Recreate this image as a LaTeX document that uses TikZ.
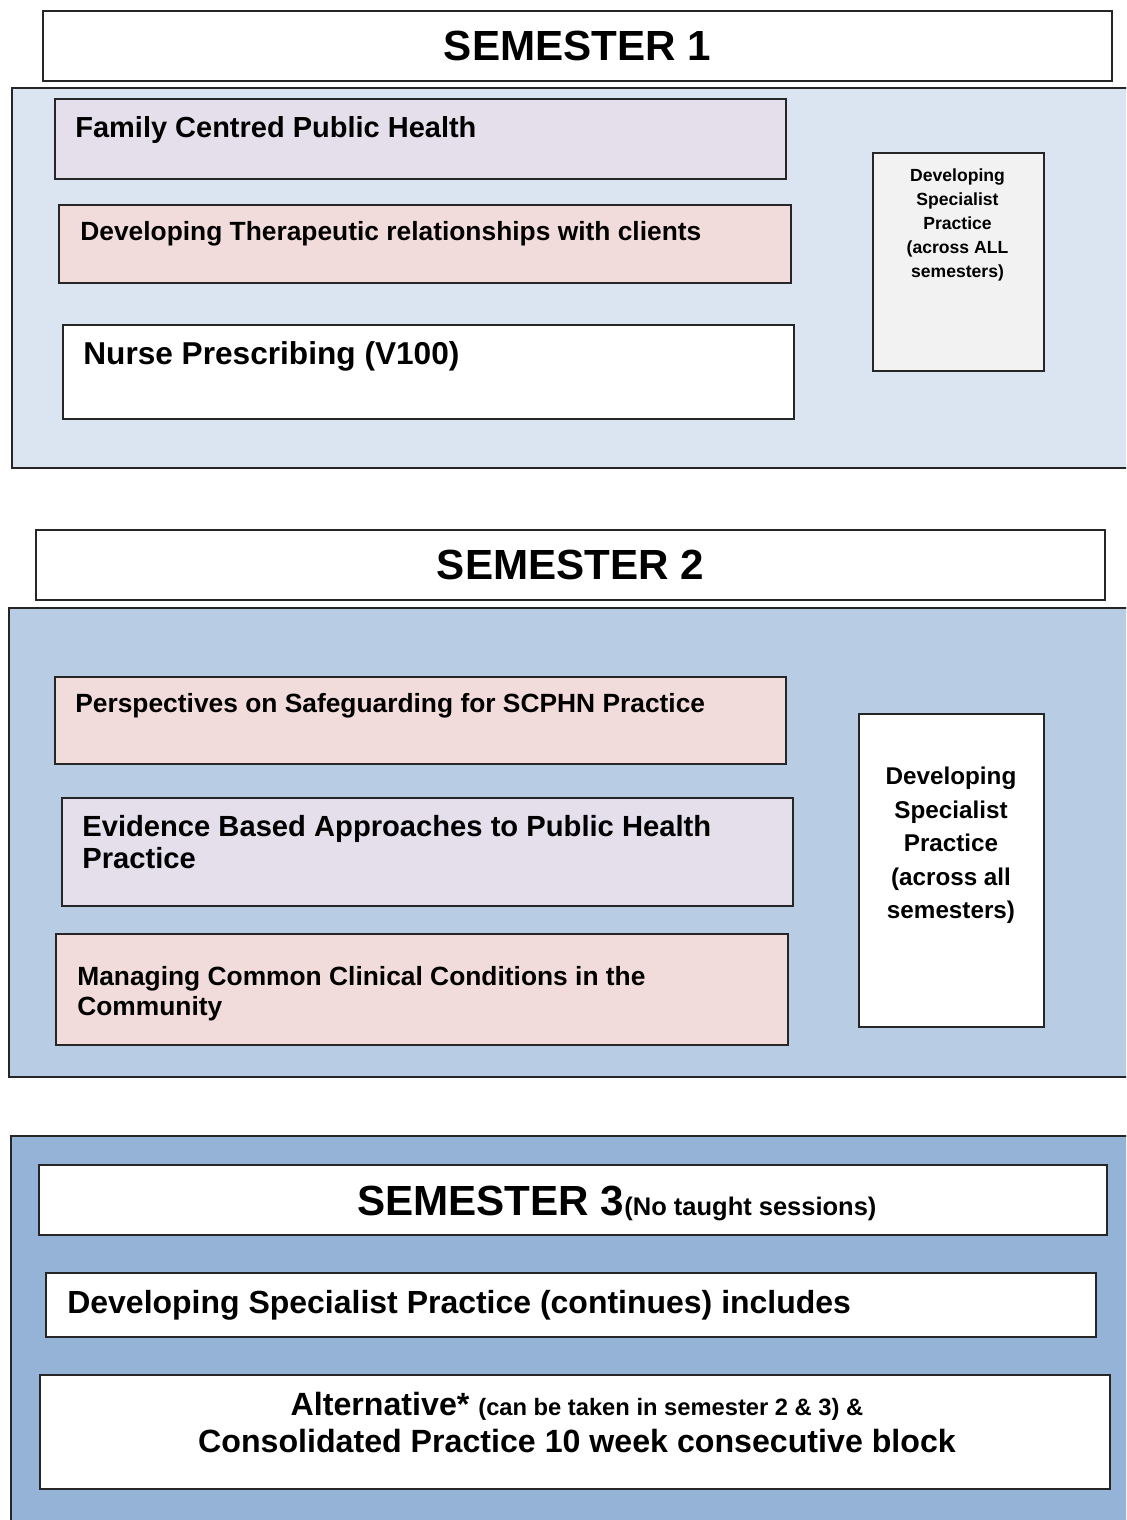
\documentclass[tikz,border=0pt]{standalone}
\usepackage{fontspec}
\setmainfont{Liberation Sans}

\definecolor{paleblue}{HTML}{DBE5F1}
\definecolor{midblue}{HTML}{B8CCE4}
\definecolor{deepblue}{HTML}{95B3D7}
\definecolor{lilac}{HTML}{E5DFEC}
\definecolor{rose}{HTML}{F2DCDB}
\definecolor{lightgrey}{HTML}{F2F2F2}

\begin{document}
\begin{tikzpicture}[x=0.02cm, y=-0.02cm,
    box/.style = {draw=black!85, line width=1pt, rectangle, anchor=north west, inner sep=0pt},
    panel/.style = {box, line width=1.2pt},
    head/.style = {draw=black!85, line width=1pt, fill=white, minimum width=21.38cm, minimum height=1.4cm, inner sep=0pt, font=\fontsize{24}{28}\selectfont\bfseries},
    modtext/.style = {inner sep=0pt, anchor=north west, align=left},
    sidetext/.style = {inner sep=0pt, anchor=north, align=center}]
  \clip (0,0) rectangle (1126,1520);

  % semester 1
  \node[head] (s1head) at (577.5,46) {SEMESTER 1};
  \node[panel, fill=paleblue, minimum width=22.58cm, minimum height=7.6cm] (s1panel) at (11,87) {};
  \node[box, fill=lilac, minimum width=14.62cm, minimum height=1.6cm] (fcph) at (54,98) {};
  \node[box, fill=rose, minimum width=14.64cm, minimum height=1.56cm] (dtr) at (58,204) {};
  \node[box, fill=white, minimum width=14.62cm, minimum height=1.88cm] (np) at (62,324) {};
  \node[box, fill=lightgrey, minimum width=3.42cm, minimum height=4.36cm] (dsp1) at (872,152) {};
  \node[modtext, font=\fontsize{16.5}{19}\selectfont\bfseries] (fcphtext) at (75,116) {Family Centred Public Health};
  \node[modtext, font=\fontsize{15}{17}\selectfont\bfseries] (dtrtext) at (80,221) {Developing Therapeutic relationships with clients};
  \node[modtext, font=\fontsize{18}{21}\selectfont\bfseries] (nptext) at (83,341) {Nurse Prescribing (V100)};
  \node[sidetext, font=\fontsize{10}{13.7}\selectfont\bfseries] (dsp1text) at (957.5,168) {Developing\\Specialist\\Practice\\(across ALL\\semesters)};

  % semester 2
  \node[head] (s2head) at (570.5,565) {SEMESTER 2};
  \node[panel, fill=midblue, minimum width=22.64cm, minimum height=9.38cm] (s2panel) at (8,607) {};
  \node[box, fill=rose, minimum width=14.62cm, minimum height=1.74cm] (pss) at (54,676) {};
  \node[box, fill=lilac, minimum width=14.62cm, minimum height=2.16cm] (ebap) at (61,797) {};
  \node[box, fill=rose, minimum width=14.64cm, minimum height=2.22cm] (mccc) at (55,933) {};
  \node[box, fill=white, minimum width=3.7cm, minimum height=6.26cm] (dsp2) at (858,713) {};
  \node[modtext, font=\fontsize{15}{17}\selectfont\bfseries] (psstext) at (75,693) {Perspectives on Safeguarding for SCPHN Practice};
  \node[modtext, font=\fontsize{16.6}{18.2}\selectfont\bfseries] (ebaptext) at (82,815) {Evidence Based Approaches to Public Health\\Practice};
  \node[modtext, font=\fontsize{15}{17}\selectfont\bfseries] (mccctext) at (77,966) {Managing Common Clinical Conditions in the\\Community};
  \node[sidetext, font=\fontsize{13.8}{19}\selectfont\bfseries] (dsp2text) at (951,767) {Developing\\Specialist\\Practice\\(across all\\semesters)};

  % semester 3
  \node[panel, fill=deepblue, minimum width=22.6cm, minimum height=8.1cm] (s3panel) at (10,1135) {};
  \node[box, fill=white, minimum width=21.36cm, minimum height=1.4cm] (s3head) at (38,1164) {};
  \node[box, fill=white, minimum width=21.0cm, minimum height=1.28cm] (dspc) at (45,1272) {};
  \node[box, fill=white, minimum width=21.4cm, minimum height=2.28cm] (alt) at (39,1374) {};
  \node[inner sep=0pt, anchor=base west, font=\fontsize{24}{28}\selectfont\bfseries] (s3text) at (357,1215) {SEMESTER 3{\fontsize{14.5}{17}\selectfont(No taught sessions)}};
  \node[modtext, font=\fontsize{18.2}{21}\selectfont\bfseries] (dspctext) at (67,1290) {Developing Specialist Practice (continues) includes};
  \node[sidetext, font=\fontsize{18.3}{21}\selectfont\bfseries] (alttext) at (577,1392) {Alternative* {\fontsize{13.5}{15}\selectfont(can be taken in semester 2 \& 3) \&}\\Consolidated Practice 10 week consecutive block};
\end{tikzpicture}
\end{document}
